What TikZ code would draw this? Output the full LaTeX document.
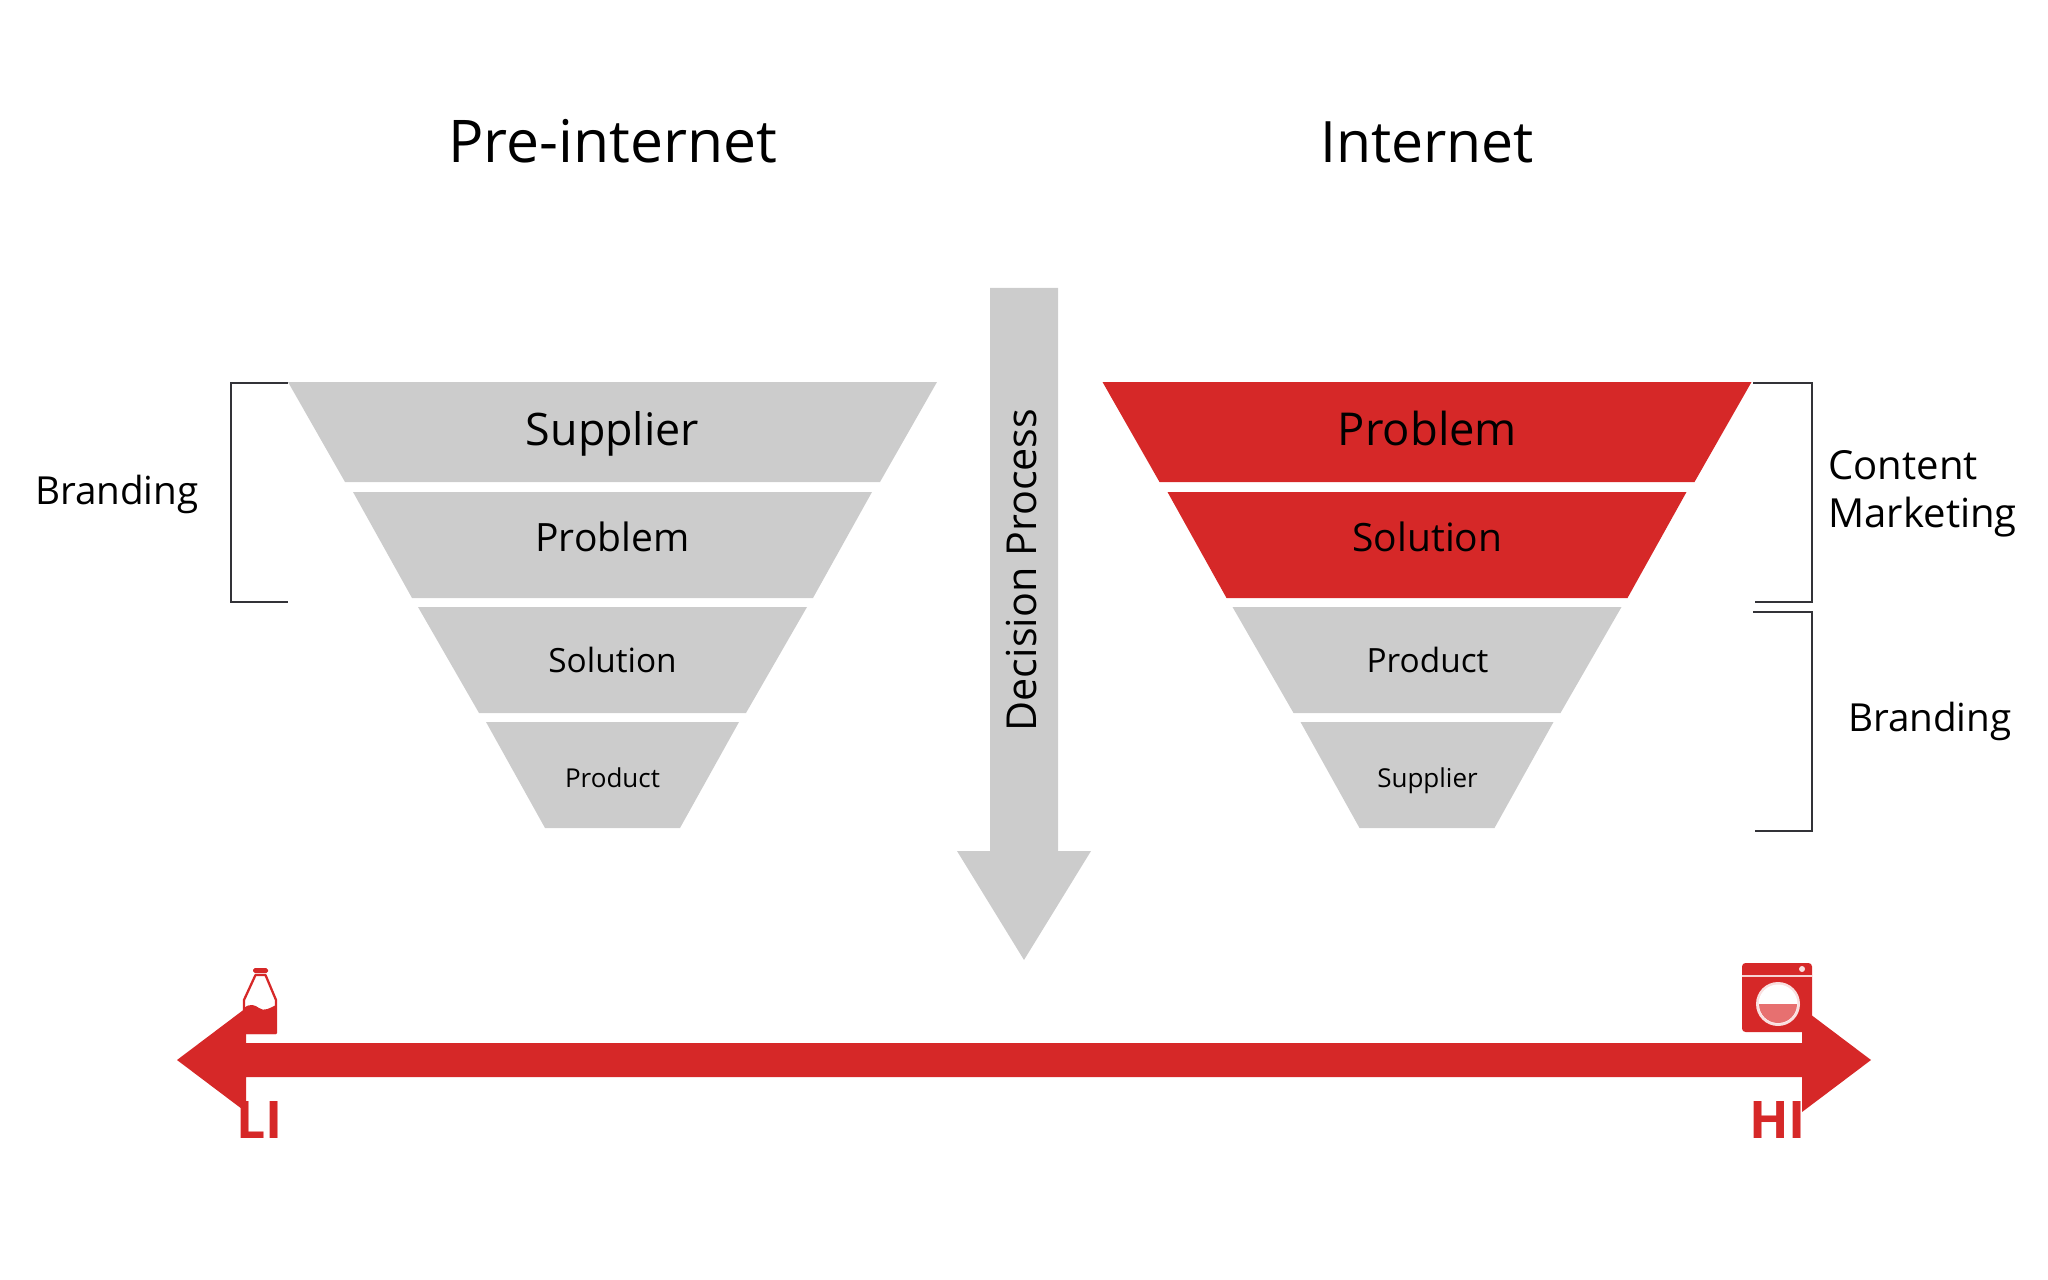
\documentclass[tikz,border=0pt]{standalone}
\usepackage{fontspec}
\setmainfont{Open Sans}
\usepackage{tikz}
\usetikzlibrary{positioning,calc}
\definecolor{funnelgray}{HTML}{CCCCCC}
\definecolor{funnelred}{HTML}{D62828}
\definecolor{drumpink}{HTML}{E77070}
\definecolor{bracketgray}{HTML}{333338}
\newcommand\fsz[1]{\fontsize{#1}{#1}\selectfont}
\tikzset{lab/.style={anchor=base, inner sep=0, outer sep=0, text=black}}
\tikzset{sidelab/.style={lab, anchor=base west}}
\tikzset{scaletext/.style={lab, text=funnelred, font=\fsz{29.5}\bfseries}}
\tikzset{brack/.style={draw=bracketgray, line width=0.75pt}}
\tikzset{greyseg/.style={fill=funnelgray}}
\tikzset{redseg/.style={fill=funnelred}}
% centre x, top y, bottom y, half width top, half width bottom
\newcommand\funnelseg[6][greyseg]{
		\fill[#1] (#2-#5, #3) -- (#2+#5, #3) -- (#2+#6, #4) -- (#2-#6, #4) -- cycle;
		}
\begin{document}
\begin{tikzpicture}[x=0.02cm, y=-0.02cm]
			\useasboundingbox (0,0) rectangle (2048,1280);
			\node[lab, font=\fsz{33.5}] (pre) at (612.5,163) {Pre-internet};
			\node[lab, font=\fsz{32.5}] (net) at (1427,163) {Internet};

			\funnelseg{612.5}{382}{482}{324.5}{267.5}
			\funnelseg{612.5}{492}{598}{259.5}{200.5}
			\funnelseg{612.5}{607}{713}{194.5}{133.5}
			\funnelseg{612.5}{722}{828}{126.5}{67.5}
			\node[lab, font=\fsz{25.5}] (l1) at (612.5,445) {Supplier};
			\node[lab, font=\fsz{22.2}] (l2) at (612.5,551) {Problem};
			\node[lab, font=\fsz{19}] (l3) at (612.5,672) {Solution};
			\node[lab, font=\fsz{14.8}] (l4) at (612.5,787) {Product};

			\funnelseg[redseg]{1427}{382}{482}{324.5}{267.5}
			\funnelseg[redseg]{1427}{492}{598}{259.5}{200.5}
			\funnelseg{1427}{607}{713}{194.5}{133.5}
			\funnelseg{1427}{722}{828}{126.5}{67.5}
			\node[lab, font=\fsz{25.8}] (r1) at (1427.5,445) {Problem};
			\node[lab, font=\fsz{22.2}] (r2) at (1427.5,551) {Solution};
			\node[lab, font=\fsz{19}] (r3) at (1427.5,672) {Product};
			\node[lab, font=\fsz{14.8}] (r4) at (1427.5,787) {Supplier};

			\draw[brack] (288,383) -- (231,383) -- (231,602) -- (288,602);
			\draw[brack] (1753,383) -- (1812,383) -- (1812,602) -- (1755,602);
			\draw[brack] (1753,612) -- (1812,612) -- (1812,831) -- (1755,831);
			\node[sidelab, font=\fsz{22}] (brandl) at (35,504) {Branding};
			\node[sidelab, font=\fsz{22.8}] (cont) at (1828.5,479) {Content};
			\node[sidelab, font=\fsz{22.8}] (mark) at (1828.5,527) {Marketing};
			\node[sidelab, font=\fsz{22}] (brandr) at (1848,731) {Branding};

			\fill[funnelgray] (990,288) -- (1058,288) -- (1058,851) -- (1091,851) -- (1024,960) -- (957,851) -- (990,851) -- cycle;
			\node[lab, anchor=base, rotate=90, font=\fsz{23.5}] (dec) at (1036,570) {Decision Process};

			\fill[funnelred] (177,1060) -- (246,1008) -- (246,1043) -- (1802,1043) -- (1802,1008) -- (1871,1060) -- (1802,1112) -- (1802,1077) -- (246,1077) -- (246,1112) -- cycle;
			\node[scaletext, anchor=base west] (li) at (236.5,1138) {LI};
			\node[scaletext, anchor=base east] (hi) at (1806,1138) {HI};

			% bottle
			\fill[funnelred, rounded corners=1] (253,968) rectangle (268,973);
			\draw[funnelred, line width=1.3pt, line join=round] (255.5,975) -- (265.5,975) -- (276,1000) -- (276,1033) -- (244,1033) -- (244,1000) -- cycle;
			\fill[funnelred] (244,1008) .. controls (250,1003) and (255,1005) .. (259,1008) .. controls (264,1012) and (270,1008) .. (276,1005) -- (276,1034) -- (244,1034) -- cycle;

			% washer
			\fill[funnelred, rounded corners=2] (1742,963) rectangle (1812,1032);
			\draw[white!80!funnelred, line width=0.6pt] (1742,976) -- (1812,976);
			\fill[white!85!funnelred] (1802,969) circle (3);
			\fill[white!85!funnelred] (1778,1004) circle (22);
			\fill[white] (1778,1004) circle (19.5);
			\fill[drumpink] (1759,1004) arc[start angle=180, end angle=0, radius=19] -- cycle;
		\end{tikzpicture}
\end{document}
